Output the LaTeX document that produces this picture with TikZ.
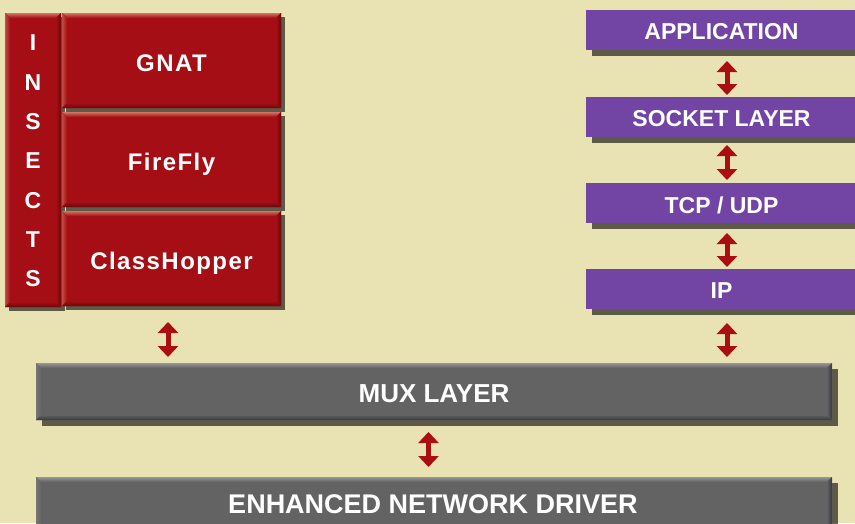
\documentclass[tikz,border=0pt]{standalone}
\usepackage{fontspec}
\setmainfont{Liberation Sans}
\newfontfamily\lsb[LetterSpace=6]{Liberation Sans}
\usetikzlibrary{arrows.meta,shadows,calc}
\definecolor{bg}{RGB}{233,226,178}
\definecolor{redbase}{RGB}{165,14,20}
\definecolor{redlt}{RGB}{210,115,100}
\definecolor{redleft}{RGB}{195,75,66}
\definecolor{reddk}{RGB}{105,8,10}
\definecolor{purp}{RGB}{114,68,164}
\definecolor{graybase}{RGB}{99,99,100}
\definecolor{graylt}{RGB}{150,150,150}
\definecolor{grayleft}{RGB}{118,118,118}
\definecolor{graydk}{RGB}{55,55,62}
\definecolor{arr}{RGB}{170,14,16}
\tikzset{
  bevel/.style n args={5}{path picture={
    \coordinate (bvnw) at (path picture bounding box.north west);
    \coordinate (bvne) at (path picture bounding box.north east);
    \coordinate (bvsw) at (path picture bounding box.south west);
    \coordinate (bvse) at (path picture bounding box.south east);
    \fill[#1] (bvnw) -- (bvne) -- ([shift={(-#5,#5)}]bvne) -- ([shift={(#5,#5)}]bvnw) -- cycle;
    \fill[#2] (bvnw) -- (bvsw) -- ([shift={(#5,-#5)}]bvsw) -- ([shift={(#5,#5)}]bvnw) -- cycle;
    \fill[#3] (bvne) -- (bvse) -- ([shift={(-#5,-#5)}]bvse) -- ([shift={(-#5,#5)}]bvne) -- cycle;
    \fill[#4] (bvsw) -- (bvse) -- ([shift={(-#5,-#5)}]bvse) -- ([shift={(#5,-#5)}]bvsw) -- cycle;
  }},
  boxbase/.style={rectangle, inner sep=0pt, outer sep=0pt, anchor=north west},
  redbox/.style={boxbase, fill=redbase,
    drop shadow={shadow xshift=4pt, shadow yshift=-4pt, fill=black, opacity=0.6},
    bevel={top color=redlt, bottom color=redbase}{left color=redleft, right color=redbase}{left color=redbase, right color=reddk}{top color=redbase, bottom color=reddk}{5}},
  purpbox/.style={boxbase, fill=purp,
    drop shadow={shadow xshift=6pt, shadow yshift=-6pt, fill=black, opacity=0.6}},
  graybox/.style={boxbase, fill=graybase,
    drop shadow={shadow xshift=6pt, shadow yshift=-6pt, fill=black, opacity=0.6},
    bevel={top color=graylt, bottom color=graybase}{left color=grayleft, right color=graybase}{left color=graybase, right color=graydk}{top color=graybase, bottom color=graydk}{5}},
  redtxt/.style={text=white, font=\lsb\bfseries\fontsize{24}{28}\selectfont, inner sep=0pt, text height=17pt, text depth=0pt},
  purptxt/.style={text=white, font=\bfseries\fontsize{23}{27}\selectfont, inner sep=0pt},
  graytxt/.style={text=white, font=\bfseries\fontsize{26}{30}\selectfont, inner sep=0pt},
  dbl/.style={draw=arr, line width=5pt, {Triangle[width=20pt,length=11pt]}-{Triangle[width=20pt,length=11pt]}},
}
\begin{document}
\begin{tikzpicture}[x=1pt,y=-1pt]
\clip (0,0) rectangle (855,523);
\fill[bg] (0,0) rectangle (855,523);

% INSECTS block
\node[redbox, minimum width=56pt, minimum height=294pt] (ins) at (5,13) {};
\node[redbox, minimum width=219pt, minimum height=95pt] (gnat) at (62,13) {};
\node[redbox, minimum width=219pt, minimum height=95pt] (ff) at (62,112) {};
\node[redbox, minimum width=219pt, minimum height=95pt] (ch) at (62,211) {};
\node[text=white, font=\bfseries\fontsize{23}{39.3}\selectfont, align=center, inner sep=0pt] (insT) at ([yshift=-1pt]ins.center) {I\\N\\S\\E\\C\\T\\S};
\node[redtxt] (gnatT) at ([yshift=-2.5pt]gnat.center) {GNAT};
\node[redtxt] (ffT) at ([yshift=-2.5pt]ff.center) {FireFly};
\node[redtxt] (chT) at ([yshift=-2.5pt]ch.center) {ClassHopper};

% protocol stack
\node[purpbox, minimum width=285pt, minimum height=40pt] (app) at (586,10) {};
\node[purpbox, minimum width=285pt, minimum height=40pt] (sock) at (586,97) {};
\node[purpbox, minimum width=285pt, minimum height=40pt] (tcp) at (586,183) {};
\node[purpbox, minimum width=285pt, minimum height=40pt] (ip) at (586,269) {};
\node[purptxt] (appT) at ([xshift=-7pt,yshift=-2pt]app.center) {APPLICATION};
\node[purptxt] (sockT) at ([xshift=-7pt,yshift=-2pt]sock.center) {SOCKET LAYER};
\node[purptxt] (tcpT) at ([xshift=-7pt,yshift=-2pt]tcp.center) {TCP / UDP};
\node[purptxt] (ipT) at ([xshift=-7pt,yshift=-2pt]ip.center) {IP};

% bottom layers
\node[graybox, minimum width=796pt, minimum height=57pt] (mux) at (36,363) {};
\node[graybox, minimum width=796pt, minimum height=70pt] (enh) at (36,477) {};
\node[graytxt] (muxT) at ([yshift=-2pt]mux.center) {MUX LAYER};
\node[text=white, font=\bfseries\fontsize{27}{31}\selectfont, inner sep=0pt] (enhT) at (433,504) {ENHANCED NETWORK DRIVER};

% arrows
\draw[dbl, shorten <=11pt, shorten >=2pt] ([xshift=-1.5pt]app.south) -- ([xshift=-1.5pt]sock.north);
\draw[dbl, shorten <=8pt, shorten >=3pt] ([xshift=-1.5pt]sock.south) -- ([xshift=-1.5pt]tcp.north);
\draw[dbl, shorten <=10pt, shorten >=2pt] ([xshift=-1.5pt]tcp.south) -- ([xshift=-1.5pt]ip.north);
\coordinate (ipd) at ([xshift=-1.5pt]ip.south);
\draw[dbl, shorten <=14pt, shorten >=6pt] (ipd) -- (ipd |- mux.north);
\coordinate (chd) at ([xshift=-3.5pt]ch.south);
\draw[dbl, shorten <=16pt, shorten >=6pt] (chd) -- (chd |- mux.north);
\coordinate (muxd) at ([xshift=-5.5pt]mux.south);
\draw[dbl, shorten <=12pt, shorten >=10pt] (muxd) -- (muxd |- enh.north);
\end{tikzpicture}
\end{document}
